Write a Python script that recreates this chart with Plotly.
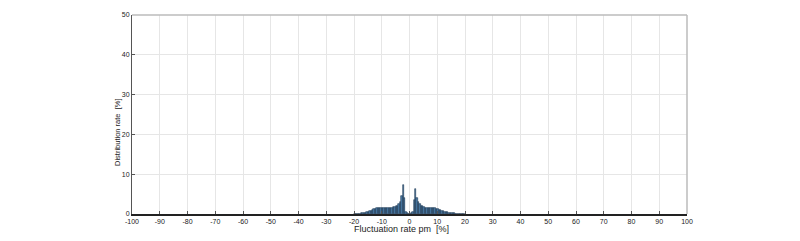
import plotly.graph_objects as go

# bin centres (fluctuation rate, %), bin width 0.5
bin_centers = [
    -19.75, -19.25, -18.75, -18.25, -17.75, -17.25, -16.75, -16.25, -15.75, -15.25,
    -14.75, -14.25, -13.75, -13.25, -12.75, -12.25, -11.75, -11.25, -10.75, -10.25,
    -9.75, -9.25, -8.75, -8.25, -7.75, -7.25, -6.75, -6.25, -5.75, -5.25,
    -4.75, -4.25, -3.75, -3.25, -2.75, -2.25, -1.75, -1.25, -0.75, -0.25,
    0.25, 0.75, 1.25, 1.75, 2.25, 2.75, 3.25, 3.75, 4.25, 4.75,
    5.25, 5.75, 6.25, 6.75, 7.25, 7.75, 8.25, 8.75, 9.25, 9.75,
    10.25, 10.75, 11.25, 11.75, 12.25, 12.75, 13.25, 13.75, 14.25, 14.75,
    15.25, 15.75, 16.25, 16.75, 17.25, 17.75, 18.25, 18.75, 19.25, 19.75,
]
distribution = [
    0.03, 0.04, 0.05, 0.06, 0.10, 0.15, 0.20, 0.25, 0.35, 0.45,
    0.55, 0.70, 0.85, 1.00, 1.15, 1.30, 1.45, 1.55, 1.60, 1.55,
    1.60, 1.55, 1.60, 1.50, 1.55, 1.60, 1.50, 1.60, 1.70, 1.75,
    1.90, 2.10, 2.40, 3.00, 4.50, 7.20, 4.00, 0.40, 0.20, 0.10,
    0.10, 0.20, 0.50, 3.50, 6.20, 4.00, 3.00, 2.50, 2.10, 1.90,
    1.70, 1.60, 1.60, 1.55, 1.60, 1.50, 1.55, 1.45, 1.40, 1.30,
    1.20, 1.00, 0.90, 0.80, 0.70, 0.60, 0.50, 0.40, 0.35, 0.30,
    0.25, 0.20, 0.15, 0.10, 0.10, 0.08, 0.06, 0.05, 0.04, 0.03,
]
x_ticks = [-100, -90, -80, -70, -60, -50, -40, -30, -20, -10, 0,
           10, 20, 30, 40, 50, 60, 70, 80, 90, 100]
y_ticks = [0, 10, 20, 30, 40, 50]

fig = go.Figure()
fig.add_trace(go.Bar(
    x=bin_centers, y=distribution, width=0.5,
    marker=dict(color="#4a7ba6", line=dict(color="#1c3550", width=0.6)),
))

tickfont = dict(family="Liberation Sans", size=7, color="#222222")
fig.update_layout(
    width=800, height=241,
    margin=dict(l=132, r=113, t=15, b=27),
    paper_bgcolor="white", plot_bgcolor="white",
    showlegend=False, bargap=0,
    font=dict(family="Liberation Sans", color="#222222"),
    xaxis=dict(
        range=[-100, 100], tickvals=x_ticks, ticktext=[str(v) for v in x_ticks],
        showgrid=True, gridcolor="#e6e6e6", gridwidth=1,
        showline=True, linecolor="#222222", linewidth=1.5,
        ticks="inside", ticklen=3, tickcolor="#555555",
        tickfont=tickfont, zeroline=False, ticklabelstandoff=0,
    ),
    yaxis=dict(
        range=[0, 50], tickvals=y_ticks, ticktext=[str(v) for v in y_ticks],
        showgrid=True, gridcolor="#e6e6e6", gridwidth=1,
        showline=True, linecolor="#555555", linewidth=1,
        ticks="inside", ticklen=3, tickcolor="#555555",
        tickfont=tickfont, zeroline=False,
    ),
    shapes=[
        dict(type="line", xref="paper", yref="paper", x0=0, x1=1, y0=1, y1=1,
             line=dict(color="#bbbbbb", width=1.5)),
        dict(type="line", xref="paper", yref="paper", x0=1, x1=1, y0=0, y1=1,
             line=dict(color="#bbbbbb", width=1.5)),
    ],
    annotations=[
        dict(text="Fluctuation rate pm  [%]", xref="paper", yref="paper",
             x=0.486, y=-0.075, xanchor="center", yanchor="middle", showarrow=False,
             font=dict(family="Liberation Sans", size=9, color="#222222")),
        dict(text="Distribution rate  [%]", xref="paper", yref="paper",
             x=-0.027, y=0.412, xanchor="center", yanchor="middle", showarrow=False,
             textangle=-90,
             font=dict(family="Liberation Sans", size=7.5, color="#222222")),
    ],
)

fig.write_html("out.html")
